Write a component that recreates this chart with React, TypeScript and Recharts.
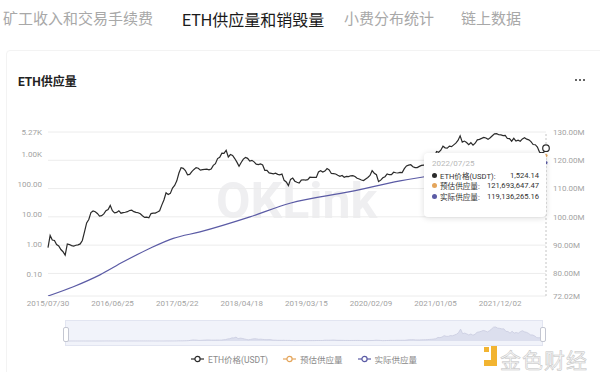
import React from "react";
import {
  LineChart,
  Line,
  XAxis,
  YAxis,
  CartesianGrid,
  ReferenceLine,
  ReferenceDot,
  AreaChart,
  Area,
} from "recharts";

const tabs = ["矿工收入和交易手续费", "ETH供应量和销毁量", "小费分布统计", "链上数据"];
const tabLeft = [3, 182, 344, 461];
const activeTab = 1;
const chartTitle = "ETH供应量";
const watermark = "OKLink";
const brandText = "金色财经";

const seriesNames = ["ETH价格(USDT)", "预估供应量", "实际供应量"];
const seriesColors = ["#2b2b2b", "#e4a55b", "#5b5ba5"];

// ETH price, one sample every 11 days from 2015/07/30 to 2022/07/25
const priceStart = "2015/07/30";
const priceStepDays = 11;
const ethPrice = [
  0.75, 1.9, 1.35, 1.3, 0.95, 0.85, 0.65, 0.55, 0.42, 1.0,
  0.95, 0.88, 0.85, 0.9, 0.93, 1.0, 1.3, 2.5, 5.0, 6.5,
  11.0, 12.5, 11.8, 10.3, 8.4, 8.7, 10.0, 12.8, 14.0, 19.0,
  12.8, 10.8, 11.2, 12.7, 10.5, 11.0, 11.3, 11.8, 12.9, 13.2,
  11.8, 11.2, 10.9, 10.0, 8.6, 7.6, 7.8, 7.4, 10.2, 10.6,
  10.6, 11.5, 12.6, 19.5, 29.0, 50.0, 44.0, 48.0, 72.0, 88.0,
  125, 228, 340, 325, 275, 198, 205, 255, 300, 345,
  330, 285, 295, 300, 305, 290, 310, 410, 465, 690,
  760, 1040, 1020, 1300, 780, 940, 870, 690, 525, 380,
  510, 660, 750, 700, 565, 600, 535, 450, 435, 460,
  420, 280, 280, 230, 222, 215, 225, 205, 197, 212,
  130, 115, 87, 140, 155, 122, 112, 105, 133, 136,
  133, 137, 165, 163, 165, 162, 248, 270, 245, 265,
  320, 290, 220, 218, 212, 193, 178, 188, 165, 176,
  174, 184, 186, 175, 152, 144, 133, 128, 145, 162,
  190, 272, 225, 200, 118, 132, 158, 172, 212, 200,
  202, 242, 232, 228, 240, 236, 318, 392, 415, 430,
  370, 345, 346, 378, 407, 415, 458, 515, 575, 655,
  750, 1190, 1120, 1310, 1780, 1570, 1530, 1790, 1715, 1970,
  2240, 2760, 3950, 2430, 2630, 2350, 1990, 2320, 1910, 2230,
  2890, 3010, 3230, 3500, 3330, 3000, 3400, 3970, 4590, 4650,
  4270, 4200, 4020, 4040, 3200, 3160, 2600, 3240, 2620, 2830,
  2590, 3110, 3410, 3040, 2890, 2520, 2020, 1990, 1660, 1120,
  1065, 1110, 1524.14,
];

const supplyDates = [
  "2015/07/30", "2015/12/07", "2016/04/21", "2016/08/19", "2017/01/03",
  "2017/05/02", "2017/09/16", "2018/05/30", "2018/12/21", "2019/10/25",
  "2020/07/07", "2020/11/02", "2021/05/01", "2021/08/05", "2022/01/01",
  "2022/07/25",
];
const supplyValues = [
  72020000, 75300000, 79500000, 84100000, 88900000,
  92400000, 94700000, 100000000, 104800000, 108900000,
  112700000, 114100000, 115900000, 117000000, 118400000,
  119136265.16,
];

const estimatedDates = ["2021/08/05", "2021/11/01", "2022/02/01", "2022/05/01", "2022/07/25"];
const estimatedValues = [117000000, 118200000, 119400000, 120600000, 121693647.47];

const xTickLabels = [
  "2015/07/30", "2016/06/25", "2017/05/22", "2018/04/18",
  "2019/03/15", "2020/02/09", "2021/01/05", "2021/12/02",
];
const priceTicks = [0.1, 1, 10, 100, 1000, 5270];
const priceDomain = [0.0185, 5270];
const supplyTicks = [72020000, 80000000, 90000000, 100000000, 110000000, 120000000, 130000000];
const supplyDomain = [72020000, 130000000];

const DAY = 86400000;
const toT = (s: string) => {
  const [y, m, d] = s.split("/").map(Number);
  return Date.UTC(y, m - 1, d);
};
const pad = (n: number) => String(n).padStart(2, "0");
const fmtDate = (t: number) => {
  const d = new Date(t);
  return `${d.getUTCFullYear()}/${pad(d.getUTCMonth() + 1)}/${pad(d.getUTCDate())}`;
};
const fmtNum = (v: number) =>
  v.toLocaleString("en-US", { minimumFractionDigits: 2, maximumFractionDigits: 2 });
const fmtPrice = (v: number) => (v >= 1000 ? (v / 1000).toFixed(2) + "K" : v.toFixed(2));
const fmtSupply = (v: number) => (v / 1e6).toFixed(2) + "M";

const t0 = toT(priceStart);
const priceRows = ethPrice.map((p, i) => ({ t: t0 + i * priceStepDays * DAY, price: p }));

type Row = { t: number; price?: number; actual?: number; estimated?: number };
const rowMap = new Map<number, Row>();
const rowAt = (t: number) => {
  if (!rowMap.has(t)) rowMap.set(t, { t });
  return rowMap.get(t)!;
};
priceRows.forEach((r) => (rowAt(r.t).price = r.price));
supplyDates.forEach((d, i) => (rowAt(toT(d)).actual = supplyValues[i]));
estimatedDates.forEach((d, i) => (rowAt(toT(d)).estimated = estimatedValues[i]));
const rows = Array.from(rowMap.values()).sort((a, b) => a.t - b.t);

const tEnd = rows[rows.length - 1].t;
const lastPrice = ethPrice[ethPrice.length - 1];
const lastActual = supplyValues[supplyValues.length - 1];
const lastEstimated = estimatedValues[estimatedValues.length - 1];
const xTicks = xTickLabels.map(toT);

const font = 'Roboto, "Noto Sans CJK SC", sans-serif';
const axisTick = { fontSize: 8, fill: "#a3a3a3", fontFamily: font };

function LegendIcon({ color }: { color: string }) {
  return (
    <svg width={13} height={8} style={{ marginRight: 4 }}>
      <line x1={0} y1={4} x2={13} y2={4} stroke={color} strokeWidth={1.2} />
      <circle cx={6.5} cy={4} r={2.6} fill="#fff" stroke={color} strokeWidth={1.2} />
    </svg>
  );
}

export default function App() {
  const tipRows = [lastPrice, lastEstimated, lastActual];
  return (
    <div
      style={{
        position: "absolute",
        left: 0,
        top: 0,
        width: 600,
        height: 372,
        overflow: "hidden",
        background: "#fff",
        fontFamily: font,
      }}
    >
      {tabs.map((tab, i) => (
        <div
          key={tab}
          style={{
            position: "absolute",
            left: tabLeft[i],
            top: 7,
            fontSize: i === activeTab ? 16 : 15,
            fontWeight: 400,
            color: i === activeTab ? "#1a1a1a" : "#a8a8a8",
            whiteSpace: "nowrap",
          }}
        >
          {tab}
        </div>
      ))}

      <div
        style={{
          position: "absolute",
          left: 6,
          top: 50,
          width: 600,
          height: 330,
          border: "1px solid #f3f3f3",
          borderRadius: 4,
        }}
      />

      <div
        style={{
          position: "absolute",
          left: 18,
          top: 72,
          fontSize: 12,
          fontWeight: 700,
          color: "#222",
        }}
      >
        {chartTitle}
      </div>
      {[575, 579, 583].map((x) => (
        <div
          key={x}
          style={{
            position: "absolute",
            left: x,
            top: 79,
            width: 2.4,
            height: 2.4,
            borderRadius: 2,
            background: "#333",
          }}
        />
      ))}

      <div
        style={{
          position: "absolute",
          left: 216,
          top: 172,
          fontSize: 50,
          fontWeight: 700,
          color: "#efeff1",
          fontFamily: "Roboto, sans-serif",
        }}
      >
        {watermark}
      </div>

      <div style={{ position: "absolute", left: 0, top: 0 }}>
        <LineChart
          width={600}
          height={320}
          data={rows}
          margin={{ top: 132, right: 0, bottom: 8, left: 0 }}
        >
          <CartesianGrid yAxisId="right" vertical={false} stroke="#ececec" />
          <XAxis
            dataKey="t"
            type="number"
            domain={[t0, tEnd]}
            ticks={xTicks}
            tickFormatter={fmtDate}
            interval={0}
            axisLine={false}
            tickLine={false}
            tickSize={2}
            tickMargin={2}
            height={16}
            tick={axisTick}
          />
          <YAxis
            yAxisId="left"
            type="number"
            scale="log"
            domain={priceDomain}
            allowDataOverflow
            ticks={priceTicks}
            tickFormatter={fmtPrice}
            interval={0}
            axisLine={false}
            tickLine={false}
            tickSize={4}
            tickMargin={2}
            width={48}
            tick={axisTick}
          />
          <YAxis
            yAxisId="right"
            orientation="right"
            type="number"
            domain={supplyDomain}
            allowDataOverflow
            ticks={supplyTicks}
            tickFormatter={fmtSupply}
            interval={0}
            axisLine={false}
            tickLine={false}
            tickSize={5}
            tickMargin={2}
            width={54}
            tick={axisTick}
          />
          <Line
            yAxisId="right"
            dataKey="estimated"
            type="monotone"
            stroke={seriesColors[1]}
            strokeWidth={1.2}
            dot={false}
            connectNulls
            isAnimationActive={false}
          />
          <Line
            yAxisId="right"
            dataKey="actual"
            type="monotone"
            stroke={seriesColors[2]}
            strokeWidth={1.2}
            dot={false}
            connectNulls
            isAnimationActive={false}
          />
          <Line
            yAxisId="left"
            dataKey="price"
            type="linear"
            stroke={seriesColors[0]}
            strokeWidth={1.2}
            dot={false}
            connectNulls
            isAnimationActive={false}
          />
          <ReferenceLine
            x={tEnd}
            yAxisId="left"
            stroke="#c4c4c4"
            strokeDasharray="2 2"
          />
          <ReferenceDot
            x={tEnd}
            y={lastActual}
            yAxisId="right"
            r={2}
            fill={seriesColors[2]}
            stroke="#fff"
            strokeWidth={0.8}
          />
          <ReferenceDot
            x={tEnd}
            y={lastEstimated}
            yAxisId="right"
            r={2}
            fill={seriesColors[1]}
            stroke="#fff"
            strokeWidth={0.8}
          />
          <ReferenceDot
            x={tEnd}
            y={lastPrice}
            yAxisId="left"
            r={3.3}
            fill="#fff"
            stroke={seriesColors[0]}
            strokeWidth={1.2}
          />
        </LineChart>
      </div>

      <div
        style={{
          position: "absolute",
          left: 424,
          top: 153,
          width: 122,
          height: 64,
          background: "#fff",
          borderRadius: 4,
          boxShadow: "0 1px 6px rgba(0,0,0,0.14)",
          boxSizing: "border-box",
          padding: "5px 7px 0 8px",
          fontSize: 7.6,
          color: "#333",
        }}
      >
        <div style={{ color: "#b8b8b8", fontSize: 8, height: 11, lineHeight: "11px", marginBottom: 1 }}>
          {fmtDate(tEnd)}
        </div>
        {seriesNames.map((name, i) => (
          <div
            key={name}
            style={{ display: "flex", alignItems: "center", height: 10.6, whiteSpace: "nowrap" }}
          >
            <span
              style={{
                width: 5,
                height: 5,
                borderRadius: 3,
                background: seriesColors[i],
                marginRight: 3,
                flex: "none",
              }}
            />
            <span>{name}:</span>
            <span style={{ marginLeft: "auto" }}>{fmtNum(tipRows[i])}</span>
          </div>
        ))}
      </div>

      <div
        style={{
          position: "absolute",
          left: 65,
          top: 320,
          width: 478,
          height: 26,
          background: "#f1f3fa",
          border: "1px solid #e2e5f1",
          boxSizing: "border-box",
        }}
      />
      <div style={{ position: "absolute", left: 65, top: 320 }}>
        <AreaChart
          width={478}
          height={26}
          data={priceRows}
          margin={{ top: 7, right: 0, bottom: 5, left: 0 }}
        >
          <XAxis dataKey="t" type="number" domain={["dataMin", "dataMax"]} hide />
          <YAxis type="number" domain={[0, "dataMax"]} hide />
          <Area
            dataKey="price"
            type="linear"
            stroke="#c9cce0"
            strokeWidth={0.8}
            fill="#dcdfee"
            fillOpacity={1}
            isAnimationActive={false}
          />
        </AreaChart>
      </div>
      {[63, 540].map((x) => (
        <div
          key={x}
          style={{
            position: "absolute",
            left: x,
            top: 327,
            width: 4,
            height: 13,
            background: "#fff",
            border: "1px solid #c4c7d2",
            borderRadius: 2,
          }}
        />
      ))}

      <div
        style={{
          position: "absolute",
          left: 191,
          top: 353,
          display: "flex",
          alignItems: "center",
          fontSize: 8.5,
          color: "#8a8a8a",
          whiteSpace: "nowrap",
        }}
      >
        {seriesNames.map((name, i) => (
          <div key={name} style={{ display: "flex", alignItems: "center", marginRight: 15 }}>
            <LegendIcon color={seriesColors[i]} />
            <span>{name}</span>
          </div>
        ))}
      </div>

      <div style={{ position: "absolute", left: 484, top: 347, width: 5, height: 5, background: "#f2b431" }} />
      <div style={{ position: "absolute", left: 491, top: 346, width: 6, height: 20, background: "#f2b431" }} />
      <div style={{ position: "absolute", left: 484, top: 360, width: 13, height: 6, background: "#f2b431" }} />
      <div
        style={{
          position: "absolute",
          left: 500,
          top: 344,
          fontSize: 21,
          color: "#f6f6f6",
          WebkitTextStroke: "0.5px #c2c2c2",
          letterSpacing: 1,
          whiteSpace: "nowrap",
        }}
      >
        {brandText}
      </div>
    </div>
  );
}
